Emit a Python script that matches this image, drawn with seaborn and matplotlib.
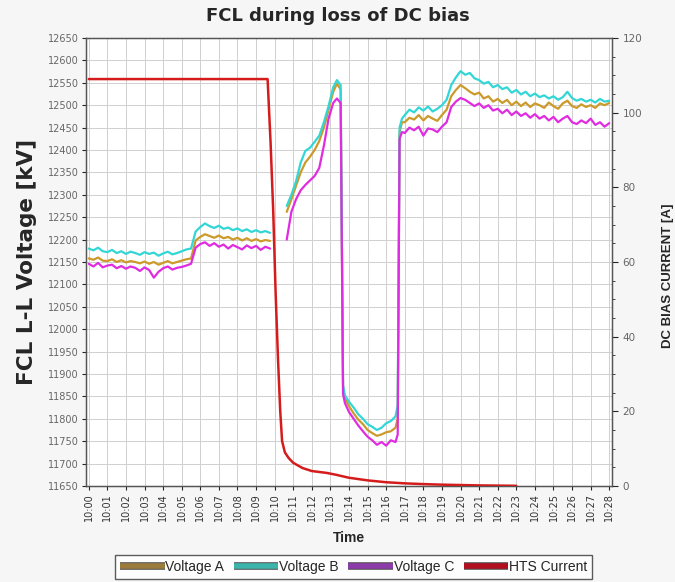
import numpy as np
import pandas as pd
import seaborn as sns
from matplotlib import pyplot as plt
from matplotlib.lines import Line2D
from matplotlib.ticker import MultipleLocator
import matplotlib.patheffects as pe


# minutes after 10:00
TIME_SEG1 = np.arange(0.0, 9.76, 0.25)
TIME_SEG2 = [10.65, 10.9, 11.15, 11.4, 11.65, 11.9, 12.15, 12.4, 12.65, 12.9,
             13.15, 13.35, 13.55, 13.68, 13.78, 14.0, 14.25, 14.5, 14.75, 15.0,
             15.25, 15.5, 15.75, 16.0, 16.25, 16.5, 16.62, 16.72, 16.85]
TIME_SEG3 = np.arange(17.0, 28.01, 0.25)

VOLT_A_SEG1 = [12158, 12155, 12160, 12153, 12152, 12156, 12150, 12154, 12149, 12152,
               12150, 12147, 12151, 12146, 12150, 12144, 12148, 12152, 12147, 12150,
               12153, 12156, 12158,
               12198, 12206, 12212, 12208, 12204, 12209, 12203,
               12206, 12200, 12204, 12198, 12203, 12197, 12201, 12196, 12199, 12197]
VOLT_B_SEG1 = [12180, 12176, 12182, 12174, 12172, 12177, 12170, 12174, 12168, 12173,
               12170, 12166, 12172, 12168, 12171, 12164, 12169, 12173, 12167, 12170,
               12174, 12178, 12180,
               12218, 12228, 12236, 12230, 12226, 12231, 12224,
               12227, 12221, 12225, 12219, 12223, 12217, 12221, 12216, 12219, 12215]
VOLT_C_SEG1 = [12146, 12140, 12148, 12138, 12142, 12144, 12136, 12141, 12135, 12140,
               12137, 12130, 12138, 12132, 12115, 12128, 12136, 12140, 12133, 12137,
               12139, 12142, 12146,
               12182, 12190, 12194, 12186, 12192, 12184, 12189,
               12180, 12188, 12183, 12178, 12187, 12181, 12186, 12177, 12184, 12180]

VOLT_A_SEG2 = [12262, 12290, 12320, 12350, 12372, 12385, 12400, 12420, 12450, 12490,
               12530, 12548, 12535, 11865, 11845, 11828, 11812, 11798, 11788, 11775,
               11768, 11762, 11765, 11770, 11772, 11780, 11800, 12440, 12462]
VOLT_B_SEG2 = [12275, 12300, 12330, 12372, 12398, 12405, 12418, 12432, 12462, 12498,
               12540, 12556, 12545, 11875, 11852, 11838, 11825, 11810, 11800, 11788,
               11782, 11775, 11780, 11790, 11795, 11805, 11830, 12450, 12470]
VOLT_C_SEG2 = [12200, 12262, 12290, 12310, 12322, 12332, 12342, 12360, 12410, 12470,
               12505, 12515, 12505, 11855, 11835, 11815, 11800, 11785, 11772, 11760,
               11752, 11742, 11748, 11740, 11752, 11748, 11765, 12425, 12440]

VOLT_A_SEG3 = [12462, 12472, 12468, 12478, 12466, 12476, 12470, 12465, 12478, 12490,
               12520, 12534, 12545, 12538, 12530, 12524, 12528, 12515, 12520, 12508,
               12514, 12505, 12512, 12500, 12508, 12498, 12506, 12496, 12504, 12500,
               12494, 12506, 12498, 12492, 12504, 12510, 12498, 12494, 12502, 12496,
               12500, 12494, 12504, 12500, 12505]
VOLT_B_SEG3 = [12478, 12490, 12484, 12495, 12488, 12497, 12486, 12492, 12500, 12512,
               12545, 12562, 12576, 12568, 12572, 12560, 12556, 12548, 12552, 12540,
               12545, 12536, 12540, 12528, 12534, 12524, 12530, 12520, 12526, 12518,
               12522, 12515, 12520, 12512, 12518, 12530, 12516, 12510, 12514, 12508,
               12512, 12506, 12514, 12508, 12510]
VOLT_C_SEG3 = [12438, 12450, 12444, 12452, 12432, 12448, 12446, 12440, 12452, 12462,
               12496, 12508, 12516, 12512, 12505, 12498, 12504, 12494, 12500, 12488,
               12492, 12482, 12490, 12478, 12486, 12476, 12482, 12472, 12480, 12470,
               12476, 12466, 12474, 12462, 12470, 12476, 12462, 12458, 12466, 12460,
               12470, 12456, 12462, 12452, 12460]

TIME_HTS = [0, 9.62, 9.78, 9.92, 10.05, 10.18, 10.3, 10.4, 10.55, 10.75, 11.0,
            11.5, 12.0, 12.8, 13.3, 14.0, 15.0, 16.0, 17.0, 18.0, 19.0, 20.0,
            21.0, 22.0, 23.0]
HTS_CURRENT = [109, 109, 92, 74, 52, 34, 20, 12, 9, 7.5, 6.2, 4.8, 4.0, 3.5, 3.0,
               2.2, 1.5, 1.0, 0.7, 0.5, 0.35, 0.25, 0.15, 0.1, 0.05]

TICK_LABELS = [f"10:{m:02d}" for m in range(29)]

COLORS = {"Voltage A": "#cc9a2a", "Voltage B": "#33d6d6",
          "Voltage C": "#e02ce0", "HTS Current": "#d41c1c"}
# legend swatches are darker than the plotted lines
LEGEND_COLORS = {"Voltage A": "#9c7c3c", "Voltage B": "#3cb4ac",
                 "Voltage C": "#8c3ca8", "HTS Current": "#b01020"}

WIDE_FONT = "DejaVu Sans"


def build_voltage_frame():
    parts = []
    series = {
        "Voltage A": (VOLT_A_SEG1, VOLT_A_SEG2 + VOLT_A_SEG3),
        "Voltage B": (VOLT_B_SEG1, VOLT_B_SEG2 + VOLT_B_SEG3),
        "Voltage C": (VOLT_C_SEG1, VOLT_C_SEG2 + VOLT_C_SEG3),
    }
    t2 = list(TIME_SEG2) + list(TIME_SEG3)
    for name, (s1, s2) in series.items():
        assert len(s1) == len(TIME_SEG1) and len(s2) == len(t2)
        parts.append(pd.DataFrame({"time": TIME_SEG1, "kV": s1,
                                   "phase": name, "seg": 1}))
        parts.append(pd.DataFrame({"time": t2, "kV": s2,
                                   "phase": name, "seg": 2}))
    return pd.concat(parts, ignore_index=True)


def main():
    sns.set_style("white")
    plt.rcParams["font.family"] = ["Liberation Sans", "DejaVu Sans"]

    fig = plt.figure(figsize=(6.75, 5.82), dpi=100, facecolor="#f6f6f6")
    ax = fig.add_axes([0.1274, 0.165, 0.7793, 0.7697])
    ax.set_facecolor("white")

    df = build_voltage_frame()
    sns.lineplot(data=df, x="time", y="kV", hue="phase", units="seg",
                 estimator=None, sort=False, palette=COLORS, lw=1.6,
                 legend=False, ax=ax, zorder=3)

    ax.set_xlim(-0.15, 28.15)
    ax.set_ylim(11650, 12650)
    ax.set_xticks(range(29))
    ax.set_xticklabels(TICK_LABELS, rotation=90, fontsize=7, color="#333333",
                       family=WIDE_FONT)
    ax.yaxis.set_major_locator(MultipleLocator(50))
    ax.tick_params(axis="y", labelsize=7, labelcolor="#666666", length=3,
                   direction="out", left=True, pad=2)
    ax.tick_params(axis="x", length=3, direction="out", bottom=True, pad=2)
    for lab in ax.get_yticklabels():
        lab.set_fontfamily(WIDE_FONT)
    ax.grid(True, color="#cfcfcf", lw=0.7)
    ax.set_axisbelow(True)
    for sp in ax.spines.values():
        sp.set_color("#555555")
        sp.set_linewidth(1.0)

    ax.set_xlabel("Time", fontsize=10, fontweight="bold", labelpad=7)
    ax.set_ylabel("FCL L-L Voltage [kV]", fontsize=15.5, fontweight="bold",
                  family=WIDE_FONT, labelpad=8)

    ax2 = ax.twinx()
    sns.lineplot(x=TIME_HTS, y=HTS_CURRENT, color=COLORS["HTS Current"],
                 lw=1.8, ax=ax2)
    ax2.set_ylim(0, 120)
    ax2.yaxis.set_major_locator(MultipleLocator(20))
    ax2.yaxis.set_minor_locator(MultipleLocator(5))
    ax2.tick_params(axis="y", which="major", labelsize=7.5, labelcolor="#666666",
                    length=4, direction="out", right=True)
    ax2.tick_params(axis="y", which="minor", length=2, direction="out",
                    right=True)
    for lab in ax2.get_yticklabels():
        lab.set_fontfamily(WIDE_FONT)
    ax2.set_ylabel("DC BIAS CURRENT [A]", fontsize=9.5, fontweight="bold")
    ax2.yaxis.set_label_coords(1.095, 0.47)
    for sp in ax2.spines.values():
        sp.set_color("#555555")

    fig.text(0.5, 0.972, "FCL during loss of DC bias", ha="center",
             va="center", fontsize=13, fontweight="bold", family=WIDE_FONT)

    handles = [Line2D([0], [0], color=c, lw=4, solid_capstyle="butt",
                      path_effects=[pe.Stroke(linewidth=5.5, foreground="#555555",
                                              capstyle="butt"),
                                    pe.Normal()], label=n)
               for n, c in LEGEND_COLORS.items()]
    leg = fig.legend(handles=handles, loc="center", bbox_to_anchor=(0.524, 0.026),
                     ncol=4, fontsize=10, frameon=True, fancybox=False,
                     handlelength=3.2, handletextpad=0.05, columnspacing=0.7,
                     borderpad=0.35)
    leg.get_frame().set_edgecolor("#333333")
    leg.get_frame().set_linewidth(1.0)
    leg.get_frame().set_facecolor("white")

    fig.savefig("out.png", dpi=100, facecolor=fig.get_facecolor())


if __name__ == "__main__":
    main()
